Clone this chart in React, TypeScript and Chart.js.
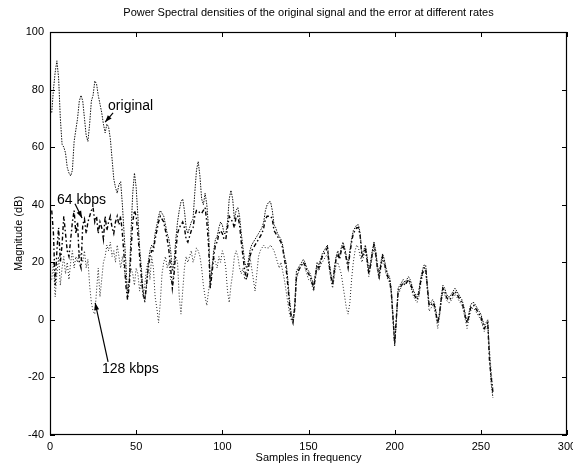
import React, { useEffect, useRef } from "react";
import { Chart, registerables } from "chart.js";

Chart.register(...registerables);

const TITLE = "Power Spectral densities of the original signal and the error at different rates";
const X_LABEL = "Samples in frequency";
const Y_LABEL = "Magnitude (dB)";
const X_TICKS = [0, 50, 100, 150, 200, 250, 300];
const Y_TICKS = [-40, -20, 0, 20, 40, 60, 80, 100];

// sample index 1..257
const SAMPLES = Array.from({ length: 257 }, (_, i) => i + 1);

const ORIGINAL = [
  72, 80, 86, 90, 84, 70, 61, 60, 58, 53,
  51, 50, 52, 62, 66, 70, 76, 78, 76, 70,
  64, 62, 68, 76, 78, 83, 82, 78, 75, 72,
  68, 65, 68, 67, 63, 56, 49, 46, 44, 47,
  48, 40, 30, 20, 8, 14, 30, 44, 51, 46,
  36, 25, 18, 10, 6, 12, 20, 24, 26, 25,
  30, 33, 36, 38, 37, 36, 33, 30, 28, 24,
  17, 20, 28, 34, 38, 41, 42, 38, 32, 30,
  32, 34, 35, 44, 52, 55, 50, 42, 40, 44,
  40, 32, 12, 18, 24, 28, 29, 32, 34, 33,
  30, 30, 34, 42, 45, 42, 35, 38, 39, 36,
  30, 25, 20, 18, 20, 24, 26, 27, 28, 29,
  30, 31, 32, 34, 38, 40, 41, 41, 38, 33,
  32, 30, 29, 28, 26, 22, 20, 14, 7, 2,
  0, 5, 17, 18, 19, 20, 21, 20, 18, 17,
  16, 14, 12, 16, 20, 19, 21, 23, 24, 25,
  26, 20, 16, 13, 18, 22, 24, 22, 25, 27,
  25, 22, 19, 24, 28, 31, 32, 33, 33, 30,
  23, 24, 26, 22, 17, 20, 24, 27, 24, 19,
  16, 20, 23, 21, 18, 16, 15, 11, 2, -9,
  0, 11, 12, 13, 14, 13, 14, 15, 14, 12,
  10, 9, 8, 10, 14, 17, 19, 19, 12, 5,
  6, 7, 6, 3, -1, 2, 8, 12, 11, 9,
  8, 8, 9, 10, 11, 10, 9, 8, 7, 5,
  2, -1, 2, 5, 6, 6, 5, 4, 3, 2,
  0, -2, -1, 0, -12, -22, -27,
];

const KBPS64 = [
  38, 30, 12, 24, 32, 20, 26, 36, 30, 24,
  22, 28, 34, 38, 30, 34, 20, 18, 33, 35,
  30, 34, 36, 38, 39, 34, 36, 30, 34, 32,
  28, 36, 31, 34, 36, 32, 30, 34, 36, 33,
  36, 30, 22, 12, 7, 12, 24, 34, 38, 36,
  30, 22, 15, 9, 7, 12, 18, 22, 24, 24,
  28, 31, 34, 36, 35, 34, 31, 28, 24, 18,
  11, 16, 24, 30, 32, 33, 34, 32, 28, 27,
  29, 31, 32, 36, 38, 38, 37, 37, 38, 39,
  34, 26, 11, 16, 22, 26, 27, 30, 31, 30,
  28, 28, 32, 36, 35, 34, 32, 36, 36, 33,
  27, 22, 17, 14, 17, 22, 24, 25, 26, 27,
  28, 29, 30, 32, 35, 36, 36, 36, 35, 31,
  30, 29, 28, 27, 25, 21, 18, 12, 5, 1,
  -1, 4, 15, 17, 18, 19, 20, 19, 17, 16,
  15, 13, 11, 15, 19, 18, 20, 22, 23, 24,
  25, 19, 15, 12, 17, 21, 23, 21, 24, 26,
  24, 21, 18, 23, 27, 30, 31, 32, 32, 29,
  22, 23, 25, 21, 16, 19, 23, 26, 23, 18,
  15, 19, 22, 20, 17, 15, 14, 10, 1, -8,
  1, 10, 11, 12, 13, 12, 13, 14, 13, 11,
  9, 8, 7, 9, 13, 16, 18, 18, 11, 5,
  5, 6, 5, 2, -1, 2, 7, 11, 10, 8,
  7, 7, 8, 9, 10, 9, 8, 7, 6, 4,
  1, -1, 1, 4, 5, 5, 4, 3, 2, 1,
  -1, -3, -2, -1, -14, -20, -25,
];

const KBPS128 = [
  14, 20, 8, 16, 22, 12, 18, 22, 16, 20,
  14, 20, 24, 18, 22, 20, 24, 22, 20, 24,
  18, 21, 12, 6, 3, 2, 10, 18, 8, 14,
  20, 22, 26, 24, 27, 22, 24, 20, 26, 22,
  18, 22, 18, 14, 10, 14, 18, 16, 12, 18,
  16, 10, 14, 8, 12, 18, 20, 14, 22, 18,
  8, 4, -1, 6, 16, 20, 22, 18, 20, 14,
  12, 18, 22, 20, 8, 2, 10, 18, 22, 20,
  22, 24, 20, 22, 25, 24, 22, 18, 12, 8,
  5, 10, 14, 18, 22, 20, 18, 22, 20, 24,
  22, 18, 10, 6, 12, 16, 22, 24, 22, 18,
  16, 18, 14, 16, 20, 22, 18, 14, 10, 16,
  22, 24, 25, 26, 25, 25, 25, 26, 25, 24,
  22, 20, 18, 20, 17, 14, 10, 6, 2, 0,
  -1, 3, 14, 16, 18, 19, 20, 18, 16, 14,
  14, 12, 10, 14, 18, 17, 19, 20, 21, 22,
  23, 18, 14, 11, 15, 19, 20, 18, 16, 12,
  8, 4, 2, 6, 14, 20, 24, 26, 25, 22,
  20, 22, 24, 20, 15, 18, 22, 25, 22, 17,
  14, 18, 21, 19, 16, 14, 13, 9, 0, -9,
  0, 9, 10, 12, 13, 12, 13, 14, 12, 10,
  8, 7, 6, 8, 12, 15, 17, 17, 10, 3,
  4, 5, 4, 1, -3, 1, 6, 10, 9, 7,
  6, 6, 7, 8, 9, 8, 7, 6, 5, 3,
  0, -3, 0, 3, 4, 4, 3, 2, 1, 0,
  -2, -4, -3, -2, -10, -18, -24,
];

// annotation text anchors and arrows, in data coordinates
const ANNOTATION_TEXT = ["original", "64 kbps", "128 kbps"];
const ANNOTATION_TEXT_POS = [[33.7, 74.3], [4.1, 41.7], [30.2, -17]];
const ANNOTATION_ARROW_FROM = [[36.6, 71.9], [14.5, 40.3], [33.7, -14.6]];
const ANNOTATION_ARROW_TO = [[32, 68.7], [18.6, 35.4], [26.2, 5.9]];

const FONT_FAMILY = "'Liberation Sans', Arial, Helvetica, sans-serif";

const framePlugin = {
  id: "matlabFrame",
  afterDatasetsDraw(chart: any) {
    const { ctx, chartArea: a, scales } = chart;
    const xs = scales.x;
    const ys = scales.y;
    ctx.save();
    ctx.strokeStyle = "#000";
    ctx.lineWidth = 1.2;
    ctx.strokeRect(a.left + 0.5, a.top + 0.5, a.right - a.left - 1, a.bottom - a.top - 1);
    ctx.beginPath();
    ctx.lineWidth = 1;
    for (const v of X_TICKS) {
      const p = Math.round(xs.getPixelForValue(v)) + 0.5;
      ctx.moveTo(p, a.bottom);
      ctx.lineTo(p, a.bottom - 5);
      ctx.moveTo(p, a.top);
      ctx.lineTo(p, a.top + 5);
    }
    for (const v of Y_TICKS) {
      const p = Math.round(ys.getPixelForValue(v)) + 0.5;
      ctx.moveTo(a.left, p);
      ctx.lineTo(a.left + 5, p);
      ctx.moveTo(a.right, p);
      ctx.lineTo(a.right - 5, p);
    }
    ctx.stroke();

    // annotations
    ctx.fillStyle = "#000";
    ctx.font = `14px ${FONT_FAMILY}`;
    ctx.textBaseline = "middle";
    ctx.textAlign = "left";
    ANNOTATION_TEXT.forEach((t, i) => {
      const tx = xs.getPixelForValue(ANNOTATION_TEXT_POS[i][0]);
      const ty = ys.getPixelForValue(ANNOTATION_TEXT_POS[i][1]);
      ctx.fillText(t, tx, ty);
      const x1 = xs.getPixelForValue(ANNOTATION_ARROW_FROM[i][0]);
      const y1 = ys.getPixelForValue(ANNOTATION_ARROW_FROM[i][1]);
      const x2 = xs.getPixelForValue(ANNOTATION_ARROW_TO[i][0]);
      const y2 = ys.getPixelForValue(ANNOTATION_ARROW_TO[i][1]);
      ctx.beginPath();
      ctx.lineWidth = 1.2;
      ctx.moveTo(x1, y1);
      ctx.lineTo(x2, y2);
      ctx.stroke();
      const ang = Math.atan2(y2 - y1, x2 - x1);
      const L = 7;
      const W = 2.5;
      ctx.beginPath();
      ctx.moveTo(x2, y2);
      ctx.lineTo(x2 - L * Math.cos(ang) + W * Math.sin(ang), y2 - L * Math.sin(ang) - W * Math.cos(ang));
      ctx.lineTo(x2 - L * Math.cos(ang) - W * Math.sin(ang), y2 - L * Math.sin(ang) + W * Math.cos(ang));
      ctx.closePath();
      ctx.fill();
    });
    ctx.restore();
  },
};

export default function App() {
  const ref = useRef<HTMLCanvasElement | null>(null);

  useEffect(() => {
    if (!ref.current) return;
    const toPts = (arr: number[]) => SAMPLES.map((x, i) => ({ x, y: arr[i] }));
    const font = { family: FONT_FAMILY, size: 11, weight: "normal" as const };
    const titleFont = { family: FONT_FAMILY, size: 11, weight: "normal" as const };
    const chart = new Chart(ref.current, {
      type: "line",
      data: {
        datasets: [
          {
            label: "original",
            data: toPts(ORIGINAL),
            borderColor: "#111",
            borderWidth: 1,
            borderDash: [1.5, 1.2],
            pointRadius: 0,
            tension: 0,
          },
          {
            label: "128 kbps",
            data: toPts(KBPS128),
            borderColor: "#222",
            borderWidth: 1,
            borderDash: [1, 2],
            pointRadius: 0,
            tension: 0,
          },
          {
            label: "64 kbps",
            data: toPts(KBPS64),
            borderColor: "#000",
            borderWidth: 1.4,
            borderDash: [4, 2.5, 1.5, 2.5],
            pointRadius: 0,
            tension: 0,
          },
        ],
      },
      options: {
        animation: false,
        responsive: false,
        maintainAspectRatio: false,
        parsing: false as any,
        layout: { padding: { left: 0, right: 6, top: 0, bottom: 0 } },
        plugins: {
          legend: { display: false },
          tooltip: { enabled: false },
          title: {
            display: true,
            fullSize: false,
            text: TITLE,
            color: "#000",
            font: titleFont,
            padding: { top: 6, bottom: 12.8 },
          },
        },
        scales: {
          x: {
            type: "linear",
            min: 0,
            max: 300,
            grid: { display: false, drawTicks: false },
            border: { display: false },
            ticks: { stepSize: 50, padding: 5, color: "#000", font, maxRotation: 0, autoSkip: false },
            title: { display: true, text: X_LABEL, color: "#000", font, padding: { top: 0, bottom: -2 } },
            afterFit(s: any) {
              s.height = 28;
              s.paddingLeft = 0;
              s.paddingRight = 0;
            },
          },
          y: {
            type: "linear",
            min: -40,
            max: 100,
            grid: { display: false, drawTicks: false },
            border: { display: false },
            ticks: { stepSize: 20, padding: 6, color: "#000", font },
            title: { display: true, text: Y_LABEL, color: "#000", font, padding: { top: 12, bottom: 0 } },
            afterFit(s: any) {
              s.width = 50;
            },
          },
        },
      },
      plugins: [framePlugin],
    });
    return () => chart.destroy();
  }, []);

  return (
    <div style={{ position: "fixed", left: 0, top: 0, width: 573, height: 463, background: "#fff" }}>
      <canvas ref={ref} width={573} height={463} style={{ width: 573, height: 463, display: "block" }} />
    </div>
  );
}
